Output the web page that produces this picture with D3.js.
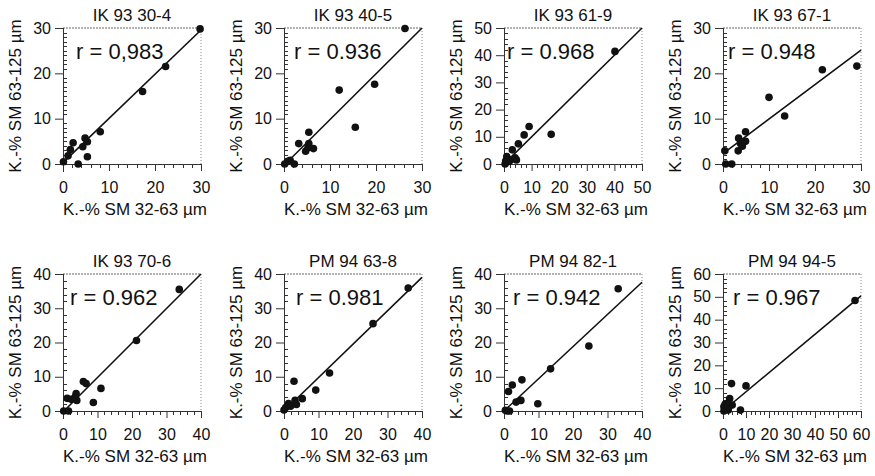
<!DOCTYPE html>
<html>
<head>
<meta charset="utf-8">
<script src="https://d3js.org/d3.v7.min.js"></script>
<style>
  body { margin: 0; background: #fff; }
  svg text { font-family: "Liberation Sans", Arial, Helvetica, sans-serif; fill: #111; }
</style>
</head>
<body>
<div id="chart"></div>
<script>
// panel titles (row by row) and correlation labels
var titles = ["IK 93 30-4", "IK 93 40-5", "IK 93 61-9", "IK 93 67-1",
              "IK 93 70-6", "PM 94 63-8", "PM 94 82-1", "PM 94 94-5"];
var rLabels = ["r = 0,983", "r = 0.936", "r = 0.968", "r = 0.948",
               "r = 0.962", "r = 0.981", "r = 0.942", "r = 0.967"];
var axisMax = [30, 30, 50, 30, 40, 40, 40, 60];
var yMinorStep = [1, 1, 2, 1, 2, 2, 2, 2];
var xMinorStep = [2, 2, 2, 2, 2, 2, 2, 2];
var xLabel = "K.-% SM 32-63 µm";
var yLabel = "K.-% SM 63-125 µm";

// regression lines
var fitIntercept = [0.3, -0.3, 0, 2.3, -0.3, 0, 0, 0];
var fitSlope = [0.975, 1.01, 1.0, 0.76, 1.0075, 0.975, 0.94, 0.84];

// points: x = 32-63 µm, y = 63-125 µm
var p1x = [29.8, 22.3, 17.3, 8.1, 4.8, 5.3, 4.3, 2.2, 1.6, 1.1, 0.1, 3.3, 5.3];
var p1y = [29.8, 21.5, 16.0, 7.1, 5.7, 4.9, 3.8, 4.7, 3.2, 1.8, 0.5, 0.0, 1.6];
var p2x = [26.3, 19.7, 12.0, 15.5, 5.4, 3.2, 5.4, 6.4, 4.7, 5.2, 1.35, 2.25, 0.15, 0.8];
var p2y = [29.9, 17.6, 16.3, 8.1, 7.0, 4.5, 4.5, 3.4, 2.8, 3.6, 0.8, 0.0, 0.0, 0.6];
var p3x = [40.2, 9.1, 7.3, 17.1, 5.2, 3.0, 1.0, 4.0, 2.4, 4.5, 0.4, 1.8, 0.6];
var p3y = [41.4, 13.8, 10.7, 10.9, 7.4, 5.2, 2.7, 2.3, 1.5, 1.5, 0.0, 0.9, 1.1];
var p4x = [29.1, 21.6, 10.0, 13.4, 4.9, 3.4, 3.8, 4.9, 3.3, 4.2, 0.4, 0.6, 1.9];
var p4y = [21.6, 20.8, 14.7, 10.6, 7.1, 5.7, 4.5, 5.0, 2.9, 3.9, 2.9, 0.0, 0.0];
var p5x = [33.7, 21.3, 5.9, 6.7, 11.0, 8.8, 3.8, 3.5, 2.4, 1.2, 4.0, 0.2, 1.6];
var p5y = [35.5, 20.6, 8.6, 8.0, 6.6, 2.5, 5.1, 4.1, 3.4, 3.7, 3.1, 0.0, 0.0];
var p6x = [36.0, 25.8, 13.2, 9.2, 2.9, 5.3, 3.2, 3.6, 1.3, 1.9, 0.5, 0.0];
var p6y = [35.9, 25.5, 11.1, 6.1, 8.7, 3.6, 3.1, 1.9, 2.2, 1.4, 1.0, 0.3];
var p7x = [33.1, 24.6, 13.5, 5.2, 2.4, 1.3, 9.8, 4.9, 3.5, 0.9, 0.4, 1.6];
var p7y = [35.7, 19.0, 12.3, 9.1, 7.6, 5.7, 2.1, 3.1, 2.6, 0.0, 0.2, 0.0];
var p8x = [57.4, 10.0, 3.7, 2.9, 4.0, 1.4, 7.6, 0.4, 1.4, 2.6, 0.4, 2.3, 0.9];
var p8y = [48.4, 11.0, 12.0, 5.5, 2.6, 3.3, 0.4, 1.9, 1.2, 1.9, 0.0, 0.4, 2.9];

var panelX = [p1x, p2x, p3x, p4x, p5x, p6x, p7x, p8x];
var panelY = [p1y, p2y, p3y, p4y, p5y, p6y, p7y, p8y];

// layout
var colLeft = [63, 284, 504, 723];
var rowTop = [28, 274];
var rowH = [136, 137];
var plotW = 138;
var rDx = [13, 10, 3, 5, 7, 12, 9, 10];

var svg = d3.select("#chart").append("svg")
  .attr("width", 875)
  .attr("height", 476);

svg.append("rect").attr("width", 875).attr("height", 476).attr("fill", "#fff");

titles.forEach(function (title, i) {
  var col = i % 4, row = Math.floor(i / 4);
  var h = rowH[row], max = axisMax[i];

  var g = svg.append("g")
    .attr("transform", "translate(" + colLeft[col] + "," + rowTop[row] + ")");

  var x = d3.scaleLinear().domain([0, max]).range([0, plotW]);
  var y = d3.scaleLinear().domain([0, max]).range([h, 0]);

  // dotted frame on top and right
  g.append("line")
    .attr("x1", 0).attr("x2", plotW).attr("y1", 0).attr("y2", 0)
    .attr("stroke", "#666").attr("stroke-dasharray", "2,1");
  g.append("line")
    .attr("x1", plotW).attr("x2", plotW).attr("y1", 0).attr("y2", h)
    .attr("stroke", "#888").attr("stroke-dasharray", "1,2");

  var major = d3.range(0, max + 1, 10);

  // minor ticks, drawn by hand from the scales
  var xMinor = d3.range(0, max + 0.001, xMinorStep[i]).filter(function (v) { return v % 10 !== 0; });
  var yMinor = d3.range(0, max + 0.001, yMinorStep[i]).filter(function (v) { return v % 10 !== 0; });
  g.selectAll(".xminor")
    .data(xMinor)
    .enter().append("line")
    .attr("class", "xminor")
    .attr("x1", function (d) { return Math.round(x(d)) + 0.5; })
    .attr("x2", function (d) { return Math.round(x(d)) + 0.5; })
    .attr("y1", h).attr("y2", h + 4)
    .attr("stroke", "#333").attr("stroke-width", 1);
  g.selectAll(".yminor")
    .data(yMinor)
    .enter().append("line")
    .attr("class", "yminor")
    .attr("x1", 0).attr("x2", 4)
    .attr("y1", function (d) { return Math.round(y(d)) + 0.5; })
    .attr("y2", function (d) { return Math.round(y(d)) + 0.5; })
    .attr("stroke", "#333").attr("stroke-width", 1);

  // x axis
  g.append("g")
    .attr("class", "xaxis")
    .attr("transform", "translate(0," + h + ")")
    .call(d3.axisBottom(x).tickValues(major).tickSizeInner(7).tickSizeOuter(0)
      .tickPadding(10.5).tickFormat(d3.format("d")));

  // y axis: major ticks outside
  g.append("g")
    .attr("class", "yaxis")
    .call(d3.axisLeft(y).tickValues(major).tickSize(8).tickPadding(4).tickFormat(d3.format("d")))
    .call(function (a) { a.select(".domain").remove(); });
  g.append("line")
    .attr("x1", 0.5).attr("x2", 0.5).attr("y1", 0).attr("y2", h + 8)
    .attr("stroke", "#333");

  g.selectAll(".tick line").attr("stroke", "#333");
  g.selectAll(".domain").attr("stroke", "#333");
  g.selectAll(".tick text").style("font-size", "16px");

  // regression line
  var b = fitIntercept[i], m = fitSlope[i];
  var xs = Math.max(0, -b / m), xe = Math.min(max, (max - b) / m);
  g.append("line")
    .attr("x1", x(xs)).attr("y1", y(m * xs + b))
    .attr("x2", x(xe)).attr("y2", y(m * xe + b))
    .attr("stroke", "#111").attr("stroke-width", 1.6);

  // points
  g.selectAll("circle")
    .data(panelX[i].map(function (v, k) { return [v, panelY[i][k]]; }))
    .enter().append("circle")
    .attr("cx", function (d) { return x(d[0]); })
    .attr("cy", function (d) { return y(d[1]); })
    .attr("r", 3.8)
    .attr("fill", "#111");

  // texts
  g.append("text")
    .attr("x", plotW / 2).attr("y", -7)
    .attr("text-anchor", "middle")
    .style("font-size", "17px")
    .text(title);
  g.append("text")
    .attr("x", rDx[i]).attr("y", 31)
    .style("font-size", "22px")
    .text(rLabels[i]);
  g.append("text")
    .attr("x", plotW / 2 + 3).attr("y", h + 51)
    .attr("text-anchor", "middle")
    .style("font-size", "17px")
    .text(xLabel);
  g.append("text")
    .attr("transform", "translate(-42," + (h / 2) + ") rotate(-90)")
    .attr("text-anchor", "middle")
    .style("font-size", "17px")
    .text(yLabel);
});
</script>
</body>
</html>
